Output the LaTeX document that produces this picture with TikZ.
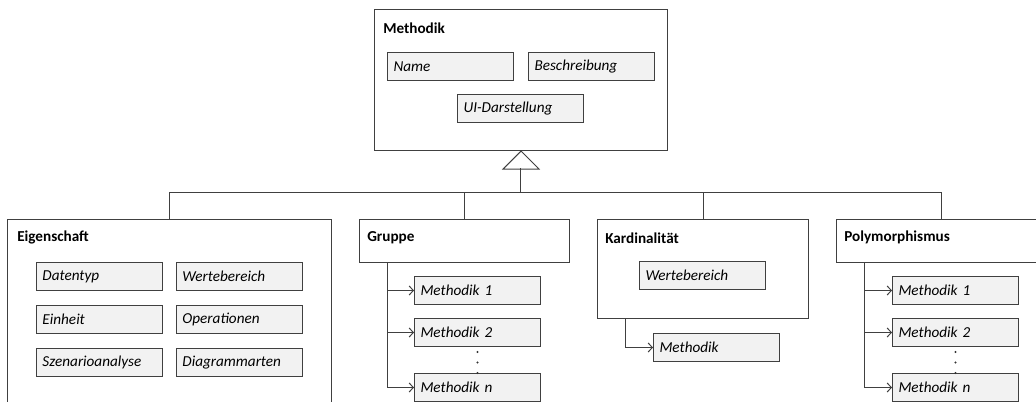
\documentclass[tikz,border=0pt]{standalone}
\usepackage{fontspec}
\setmainfont{Carlito}
\usepackage{tikz}
\usetikzlibrary{arrows.meta, positioning}

\begin{document}
\begin{tikzpicture}[
x=0.025cm, y=-0.025cm,
node distance=0.35cm,
>={Straight Barb[length=3pt,width=6.5pt]},
every node/.style={font=\fontsize{10.8}{13}\selectfont},
outerbox/.style={rectangle, draw=black!75, fill=white, line width=0.7pt, anchor=north west, inner sep=0pt},
attrbox/.style={rectangle, draw=black!75, fill=black!5, line width=0.7pt, anchor=north west, text width=2.85cm, inner xsep=0.15cm, inner ysep=0pt, minimum height=0.7cm, align=left, font=\fontsize{10.8}{13}\selectfont\itshape},
titletext/.style={anchor=west, inner sep=0pt, font=\fontsize{10.8}{13}\selectfont\bfseries},
link/.style={draw=black!75, line width=0.7pt},
]
\useasboundingbox (0,0) rectangle (1036,401);

%Nodes
\node[outerbox, minimum width=7.325cm, minimum height=3.525cm] (meth) at (374,9) {};
\node[titletext] (methtitle) at ([xshift=0.225cm, yshift=-0.47cm]meth.north west) {Methodik};
\node[attrbox] (name) at (387,52) {Name};
\node[attrbox] (beschr) [right=of name.north east, anchor=north west] {Beschreibung};
\node[attrbox] (ui) at (457,94) {UI-Darstellung};

\node[outerbox, minimum width=8.1cm, minimum height=4.9cm] (eig) at (7,219) {};
\node[titletext] (eigtitle) at ([xshift=0.25cm, yshift=-0.47cm]eig.north west) {Eigenschaft};
\node[attrbox] (datentyp) at (36,262) {Datentyp};
\node[attrbox] (einheit) [below=of datentyp.south west, anchor=north west] {Einheit};
\node[attrbox] (szenario) [below=of einheit.south west, anchor=north west] {Szenarioanalyse};
\node[attrbox] (werte) at (176,262) {Wertebereich};
\node[attrbox] (oper) [below=of werte.south west, anchor=north west] {Operationen};
\node[attrbox] (diagramm) [below=of oper.south west, anchor=north west] {Diagrammarten};

\node[outerbox, minimum width=5.25cm, minimum height=1.075cm] (grp) at (359,219) {};
\node[titletext] (grptitle) at ([xshift=0.2cm, yshift=-0.47cm]grp.north west) {Gruppe};
\node[attrbox] (g1) at (414,276) {Methodik 1};
\node[attrbox] (g2) at (414,318) {Methodik 2};
\node[attrbox] (gn) at (414,373) {Methodik \textit{n}};

\node[outerbox, minimum width=5.275cm, minimum height=2.475cm] (kard) at (597,219) {};
\node[titletext] (kardtitle) at ([xshift=0.2cm, yshift=-0.47cm]kard.north west) {Kardinalität};
\node[attrbox] (kwerte) at (639,261) {Wertebereich};
\node[attrbox] (kmeth) at (653,333) {Methodik};

\node[outerbox, minimum width=5.25cm, minimum height=1.075cm] (poly) at (836,219) {};
\node[titletext] (polytitle) at ([xshift=0.2cm, yshift=-0.47cm]poly.north west) {Polymorphismus};
\node[attrbox] (p1) at (892,276) {Methodik 1};
\node[attrbox] (p2) at (892,318) {Methodik 2};
\node[attrbox] (pn) at (892,373) {Methodik \textit{n}};

%Lines
\coordinate (tri) at (520,168);
\coordinate (bus) at (520,192);
\draw[link] (meth.south) -- ++(-18,18) -- ++(36,0) -- cycle;
\draw[link] (tri) -- (bus);
\draw[link] (eig.north) |- (poly.north |- bus) -- (poly.north);
\draw[link] (grp.north) -- (grp.north |- bus);
\draw[link] (kard.north) -- (kard.north |- bus);

\coordinate (gstem) at ([xshift=0.7cm]grp.south west);
\draw[link, ->] (gstem) |- (g1.west);
\draw[link, ->] (gstem) |- (g2.west);
\draw[link, ->] (gstem) |- (gn.west);

\coordinate (kstem) at ([xshift=0.7cm]kard.south west);
\draw[link, ->] (kstem) |- (kmeth.west);

\coordinate (pstem) at ([xshift=0.7cm]poly.south west);
\draw[link, ->] (pstem) |- (p1.west);
\draw[link, ->] (pstem) |- (p2.west);
\draw[link, ->] (pstem) |- (pn.west);

%Dots
\foreach \d in {351,361.5,372} {
  \fill[black!80] (g2.south -| g2.center) ++(0,\d-346) circle (0.85pt);
  \fill[black!80] (p2.south -| p2.center) ++(0,\d-346) circle (0.85pt);
}
\end{tikzpicture}
\end{document}
